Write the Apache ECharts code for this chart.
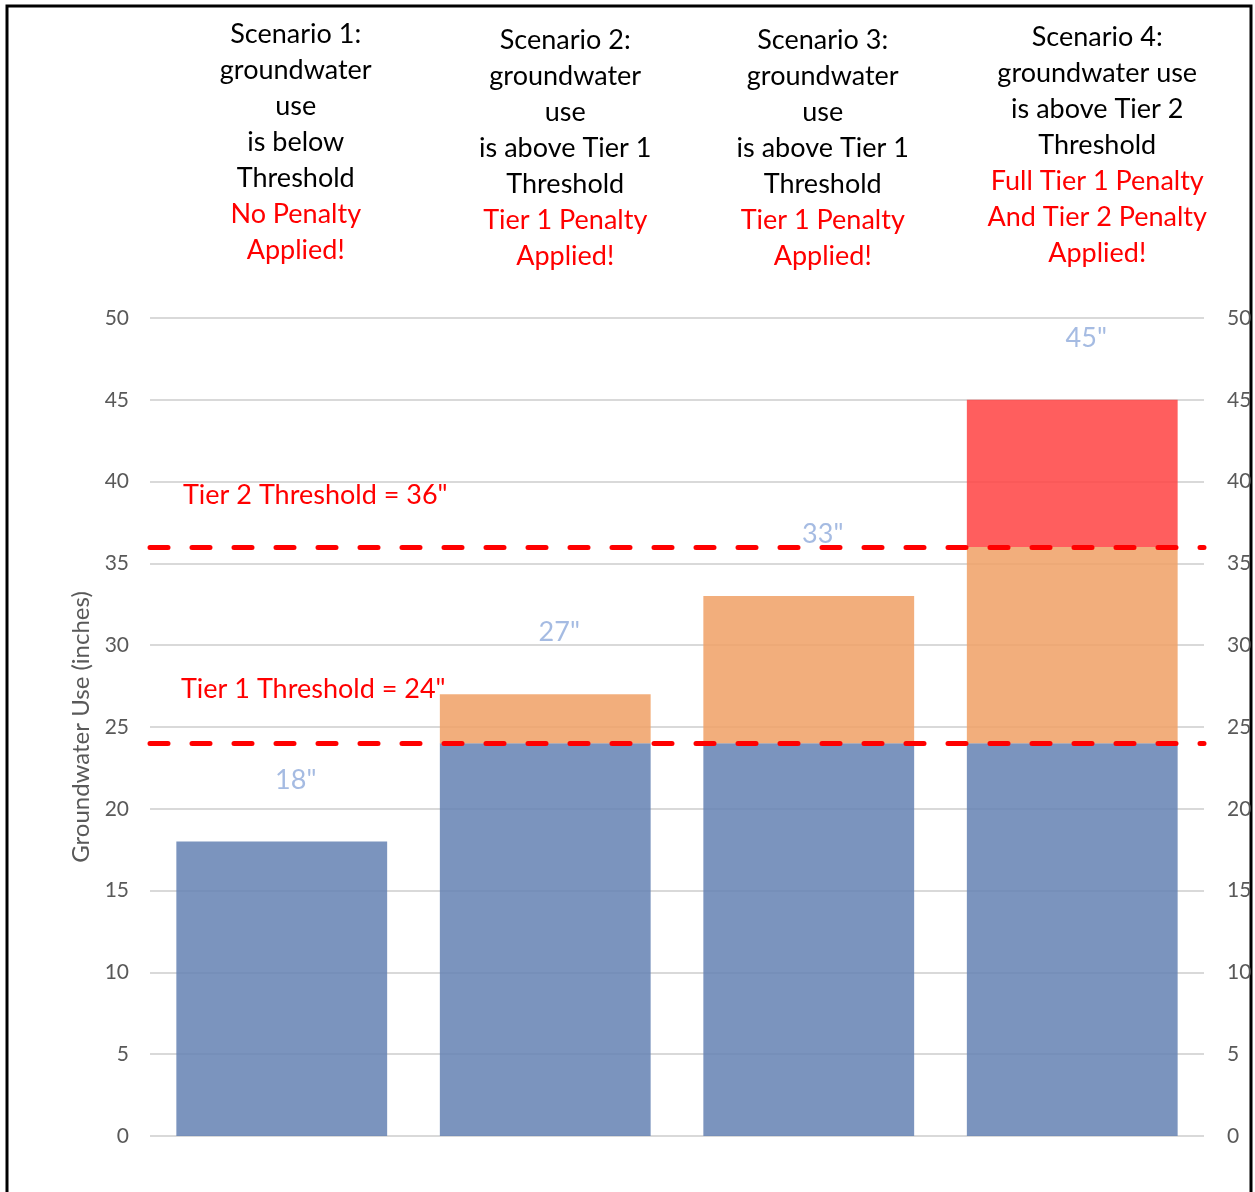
<!DOCTYPE html>
<html>
<head>
<meta charset="utf-8">
<script src="https://cdn.jsdelivr.net/npm/echarts@6/dist/echarts.min.js"></script>
<style>
  html, body { margin: 0; padding: 0; background: #fff; }
  #chart { width: 1255px; height: 1192px; }
</style>
</head>
<body>
<div id="chart"></div>
<script>
// Scenario headings: black description lines, red penalty lines
const scenarioText = [
  ['Scenario 1:', 'groundwater', 'use', 'is below', 'Threshold'],
  ['Scenario 2:', 'groundwater', 'use', 'is above Tier 1', 'Threshold'],
  ['Scenario 3:', 'groundwater', 'use', 'is above Tier 1', 'Threshold'],
  ['Scenario 4:', 'groundwater use', 'is above Tier 2', 'Threshold']
];
const penaltyText = [
  ['No Penalty', 'Applied!'],
  ['Tier 1 Penalty', 'Applied!'],
  ['Tier 1 Penalty', 'Applied!'],
  ['Full Tier 1 Penalty', 'And Tier 2 Penalty', 'Applied!']
];
const categories = ['Scenario 1', 'Scenario 2', 'Scenario 3', 'Scenario 4'];

// Groundwater use split by penalty band (inches)
const belowTier1 = [18, 24, 24, 24];
const tier1Band  = ['-', 3, 9, 12];
const tier2Band  = ['-', '-', '-', 9];
const totalUse   = [18, 27, 33, 45];

const tier1Threshold = 24;
const tier2Threshold = 36;

const yTicks = { min: 0, max: 50, interval: 5 };

const FONT = 'Lato, "Open Sans", sans-serif';
// small per-heading nudges: [left padding, bottom padding]
const headingPad = [[28, 6], [40, 0], [28, 0], [50, 3]];

const chart = echarts.init(document.getElementById('chart'), null, { renderer: 'canvas' });

const axisLabelStyle = { color: '#595959', fontSize: 21, fontFamily: FONT };

chart.setOption({
  animation: false,
  backgroundColor: '#fff',
  graphic: [{
    type: 'rect',
    shape: { x: 7, y: 6, width: 1244, height: 1200 },
    style: { fill: 'none', stroke: '#000', lineWidth: 3 },
    silent: true
  }],
  grid: { left: 150, right: 51, top: 318, bottom: 56 },
  xAxis: {
    type: 'category',
    position: 'top',
    data: categories.map((c, i) => ({
      value: c,
      textStyle: { padding: [0, 0, headingPad[i][1], headingPad[i][0]] }
    })),
    axisLine: { show: false },
    axisTick: { show: false },
    axisLabel: {
      interval: 0,
      margin: 44,
      verticalAlign: 'bottom',
      formatter: (v, i) => scenarioText[i].map(s => '{b|' + s + '}').join('\n') + '\n' +
                           penaltyText[i].map(s => '{r|' + s + '}').join('\n'),
      rich: {
        b: { color: '#000', fontSize: 27, lineHeight: 36, fontFamily: FONT },
        r: { color: '#ff0000', fontSize: 27, lineHeight: 36, fontFamily: FONT }
      }
    }
  },
  yAxis: [{
    type: 'value',
    min: yTicks.min, max: yTicks.max, interval: yTicks.interval,
    name: 'Groundwater Use (inches)',
    nameLocation: 'middle',
    nameGap: 56,
    nameTextStyle: { color: '#595959', fontSize: 24, fontFamily: FONT },
    axisLine: { show: false },
    axisTick: { show: false },
    axisLabel: Object.assign({ margin: 21 }, axisLabelStyle),
    splitLine: { lineStyle: { color: '#d9d9d9', width: 2 } }
  }, {
    type: 'value',
    position: 'right',
    min: yTicks.min, max: yTicks.max, interval: yTicks.interval,
    axisLine: { show: false },
    axisTick: { show: false },
    axisLabel: Object.assign({ margin: 23 }, axisLabelStyle),
    splitLine: { show: false }
  }],
  series: [{
    name: 'Below Tier 1',
    type: 'bar',
    stack: 'use',
    barCategoryGap: '20%',
    data: belowTier1,
    itemStyle: { color: 'rgb(100,129,179)', opacity: 0.85 },
    markLine: {
      silent: true,
      symbol: ['none', 'none'],
      lineStyle: { color: '#ff0000', width: 5, type: [18, 24], cap: 'round' },
      label: {
        show: true,
        position: 'insideStartTop',
        color: '#ff0000',
        fontSize: 27,
        fontFamily: FONT
      },
      data: [
        { yAxis: tier1Threshold, label: { formatter: 'Tier 1 Threshold = ' + tier1Threshold + '"', distance: [31, 41] } },
        { yAxis: tier2Threshold, label: { formatter: 'Tier 2 Threshold = ' + tier2Threshold + '"', distance: [33, 38] } }
      ]
    }
  }, {
    name: 'Tier 1 band',
    type: 'bar',
    stack: 'use',
    data: tier1Band,
    itemStyle: { color: 'rgb(240,160,101)', opacity: 0.85 }
  }, {
    name: 'Tier 2 band',
    type: 'bar',
    stack: 'use',
    data: tier2Band,
    itemStyle: { color: 'rgb(255,66,66)', opacity: 0.85 }
  }, {
    name: 'Total',
    type: 'scatter',
    data: totalUse,
    symbolSize: 0,
    z: 5,
    label: {
      show: true,
      position: 'top',
      distance: 48,
      offset: [14, 0],
      formatter: p => p.value + '"',
      color: '#8eaadb',
      fontSize: 27,
      fontFamily: FONT
    }
  }]
});
</script>
</body>
</html>
